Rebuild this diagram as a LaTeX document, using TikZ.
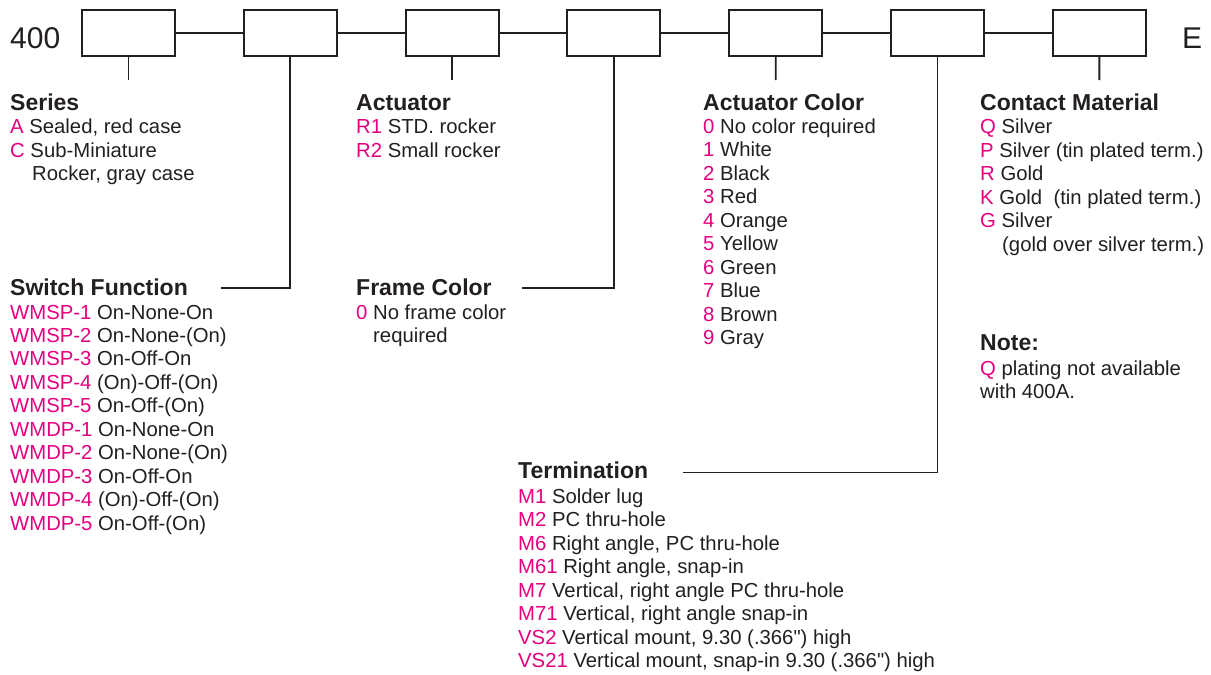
\documentclass[tikz,border=0pt]{standalone}
\usepackage{fontspec}
\setmainfont{Liberation Sans}
\newfontfamily\plainsans[Ligatures=ResetAll]{Liberation Sans}
\definecolor{mag}{HTML}{E6007E}
\definecolor{ink}{HTML}{231F20}
\tikzset{
  part/.style={draw=ink, line width=1.9pt, minimum width=93pt, minimum height=46pt, inner sep=0pt},
  wire/.style={draw=ink, line width=1.9pt},
  txt/.style={anchor=base west, inner sep=0pt, text=ink, font=\fontsize{20.3}{23.5}\selectfont},
  hd/.style={anchor=base west, inner sep=0pt, text=ink, font=\fontsize{23}{26}\selectfont\bfseries},
  big/.style={anchor=base west, inner sep=0pt, text=ink, font=\fontsize{30}{34}\selectfont}
}
\newcommand\ent[4]{\node[txt] (#1) at (#2) {\textcolor{mag}{#3} #4};}
\newcommand\sq{{\plainsans\char34}}
\begin{document}
\begin{tikzpicture}[x=1pt,y=-1pt]
\useasboundingbox (0,0) rectangle (1211,675);
% prefix / suffix
\node[big] (p400) at (10,48) {400};
\node[big] (pE) at (1182,48) {E};
% boxes
\foreach \i in {1,...,7} {
  \node[part] (b\i) at ({128.5+161.8*(\i-1)},33) {};
}
\foreach \i/\j in {1/2,2/3,3/4,4/5,5/6,6/7} {
  \draw[wire] (b\i.east) -- (b\j.west);
}
% stubs
\coordinate (t1) at (128.5,80);
\coordinate (t3) at (452.1,80);
\coordinate (t5) at (775.7,80);
\coordinate (t7) at (1099.3,80);
\draw[wire] (b1.south) -- (t1);
\draw[wire] (b3.south) -- (t3);
\draw[wire] (b5.south) -- (t5);
\draw[wire] (b7.south) -- (t7);
\coordinate (c2) at (221,288);
\coordinate (c4) at (522,288);
\coordinate (c6) at (683,472.5);
\draw[wire] (b2.south) |- (c2);
\draw[wire] (b4.south) |- (c4);
\draw[wire] (b6.south) |- (c6);
% Series
\node[hd] (hseries) at (10,110) {Series};
\ent{sA}{10,133.5}{A}{Sealed, red case}
\ent{sC}{10,157}{C}{Sub-Miniature}
\node[txt] (sC2) at (32,180.5) {Rocker, gray case};
% Actuator
\node[hd] (hact) at (356,110) {Actuator};
\ent{aR1}{356,133.5}{R1}{STD. rocker}
\ent{aR2}{356,157}{R2}{Small rocker}
% Actuator Color
\node[hd] (hacol) at (703,110) {Actuator Color};
\foreach \k/\t in {0/No color required,1/White,2/Black,3/Red,4/Orange,5/Yellow,6/Green,7/Blue,8/Brown,9/Gray} {
  \node[txt] (ac\k) at (703,{133.5+23.45*\k}) {\textcolor{mag}{\k} \t};
}
% Contact Material
\node[hd] (hcm) at (980,110) {Contact Material};
\ent{cQ}{980,133.5}{Q}{Silver}
\ent{cP}{980,157}{P}{Silver (tin plated term.)}
\ent{cR}{980,180.5}{R}{Gold}
\ent{cK}{980,204}{K}{Gold\ \ (tin plated term.)}
\ent{cG}{980,227.5}{G}{Silver}
\node[txt] (cG2) at (1002,251) {(gold over silver term.)};
% Note
\node[hd] (hnote) at (980,350) {Note:};
\ent{n1}{980,375}{Q}{plating not available}
\node[txt] (n2) at (980,398.5) {with 400A.};
% Switch Function
\node[hd] (hsw) at (10,295) {Switch Function};
\foreach \k/\c/\t in {0/WMSP-1/On-None-On,1/WMSP-2/On-None-(On),2/WMSP-3/On-Off-On,3/WMSP-4/(On)-Off-(On),4/WMSP-5/On-Off-(On),5/WMDP-1/On-None-On,6/WMDP-2/On-None-(On),7/WMDP-3/On-Off-On,8/WMDP-4/(On)-Off-(On),9/WMDP-5/On-Off-(On)} {
  \node[txt] (sw\k) at (10,{319+23.45*\k}) {\textcolor{mag}{\c} \t};
}
% Frame Color
\node[hd] (hfc) at (356,295) {Frame Color};
\ent{f0}{356,319}{0}{No frame color}
\node[txt] (f02) at (373,342.5) {required};
% Termination
\node[hd] (hterm) at (518,478) {Termination};
\foreach \k/\c/\t in {0/M1/Solder lug,1/M2/PC thru-hole,2/M6/{Right angle, PC thru-hole},3/M61/{Right angle, snap-in},4/M7/{Vertical, right angle PC thru-hole},5/M71/{Vertical, right angle snap-in},6/VS2/{Vertical mount, 9.30 (.366\sq) high},7/VS21/{Vertical mount, snap-in 9.30 (.366\sq) high}} {
  \node[txt] (tm\k) at (518,{503+23.57*\k}) {\textcolor{mag}{\c} \t};
}
\end{tikzpicture}
\end{document}
